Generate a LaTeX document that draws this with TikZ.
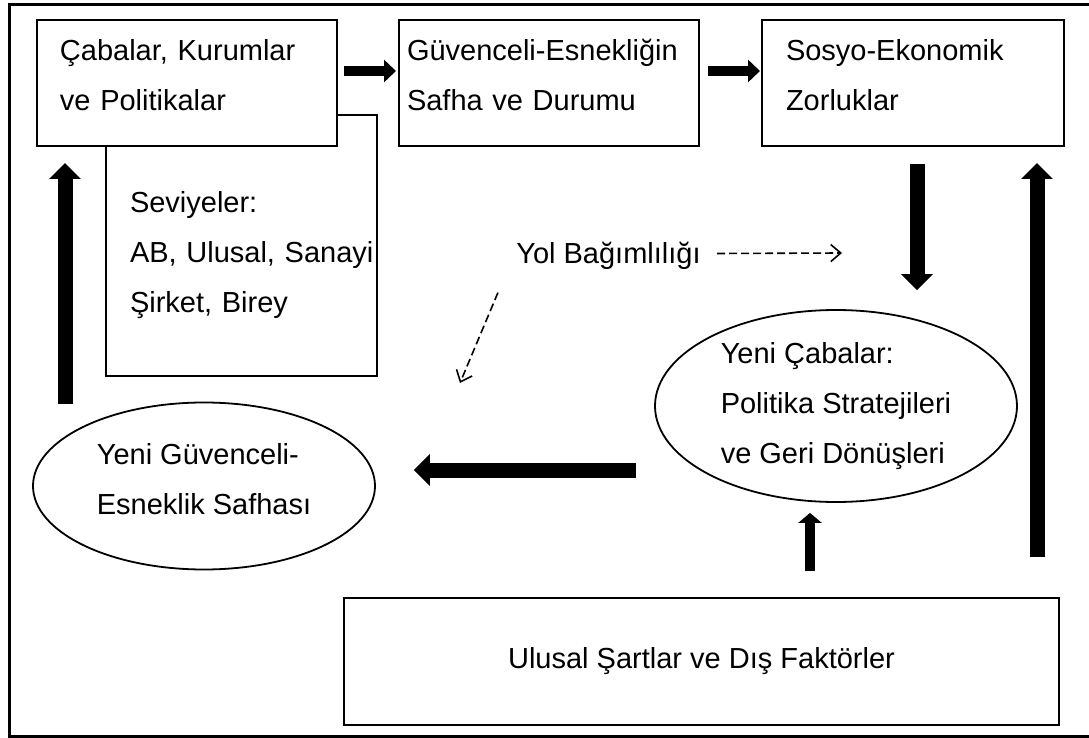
\documentclass[tikz,border=0pt]{standalone}
\usepackage{fontspec}
\setmainfont{Liberation Sans}
\usetikzlibrary{arrows.meta,calc,positioning,shapes.geometric}

\begin{document}
\begin{tikzpicture} [
    x=0.5pt, y=-0.5pt,
    every node/.style = {font=\fontsize{14.5}{25}\selectfont},
    kutu/.style   = {draw,
                     line width=1pt,
                     fill=white,
                     align=left,
                     inner xsep=0pt,
                     minimum height=63pt},
    elips/.style  = {draw, ellipse,
                     line width=0.9pt,
                     align=left,
                     inner sep=0pt},
    solpay/.style = {execute at begin node={\leftskip=#1\relax}},
    ince/.style   = {line width=5pt,
                     -{Triangle[width=11pt,length=6pt]}},
    kalin/.style  = {line width=7.5pt,
                     -{Triangle[width=15.5pt,length=8pt]}},
    kesik/.style  = {line width=0.8pt,
                     dash pattern=on 4pt off 2pt,
                     -{Straight Barb[length=5pt,width=8.5pt]}}
]
\useasboundingbox (0,0) rectangle (1089,738);
% cerceve
\draw[line width=1.5pt] (1095,5) -| (9,736) -- (1095,736);

% ust sira
\node (seviye) [kutu, text width=135.5pt, minimum height=130.5pt,
    solpay=12pt, text height=20.5pt] at (241.5,245.5) {
Seviyeler:\\
AB, Ulusal, Sanayi\\
Şirket, Birey
};
\node (cabalar) [kutu, text width=150pt, solpay=11.5pt,
    text depth=33.5pt] at (187,83) {
Çabalar, Kurumlar\\
ve Politikalar
};
\node (guvence) [kutu, text width=150pt, solpay=4pt,
    text depth=33.5pt, right=30pt of cabalar] {
Güvenceli-Esnekliğin\\
Safha ve Durumu
};
\node (zorluk) [kutu, text width=151pt, solpay=12pt,
    text depth=33.5pt, right=30.5pt of guvence] {
Sosyo-Ekonomik\\
Zorluklar
};
\draw[ince] ([xshift=3pt,yshift=6pt]cabalar.east) -- ([xshift=-1pt,yshift=6pt]guvence.west);
\draw[ince] ([xshift=4pt,yshift=6pt]guvence.east) -- ([xshift=-0.5pt,yshift=6pt]zorluk.west);

% orta
\node (yol) [inner sep=0pt] at (608.5,255.5) {Yol Bağımlılığı};
\coordinate (yolSag) at (842,253);
\coordinate (yolSol) at (460,383);
\draw[kesik] ($(yol.east)+(8pt,1pt)$) -- (yolSag);
\draw[kesik] ($(yol.south west)+(-9pt,-11.5pt)$) -- (yolSol);

\node (yeniCaba) [elips, minimum width=181pt, minimum height=96pt] at (836,406) {
Yeni Çabalar:\\
Politika Stratejileri\\
ve Geri Dönüşleri
};
\node (yeniGuv) [elips, minimum width=171pt, minimum height=83.5pt,
    text depth=6.6pt] at (204,486) {
Yeni Güvenceli-\\
Esneklik Safhası
};
\node (ulusal) [kutu, align=center, minimum width=357.5pt,
    minimum height=63.5pt] at (701.5,661.5) {Ulusal Şartlar ve Dış Faktörler};

% kalin oklar
\draw[kalin] ($(zorluk.south)+(2pt,-8.5pt)$) -- ($(zorluk.south |- yeniCaba.north)+(2pt,9.5pt)$);
\draw[kalin] ($(yeniCaba.west |- yeniGuv.east)+(-9pt,8pt)$) -- ($(yeniGuv.east)+(19pt,8pt)$);
\draw[kalin] ($(yeniGuv.north -| cabalar.west)+(14.5pt,-1pt)$) -- ($(cabalar.south west)+(14.5pt,-8pt)$);
\draw[kalin] ($(ulusal.north -| zorluk.east)+(-14pt,20pt)$) -- ($(zorluk.south east)+(-14pt,-8pt)$);
\draw[ince, -{Triangle[width=11.5pt,length=5pt]}]
    ($(ulusal.north -| yeniCaba.south)+(-13pt,13pt)$) -- ($(yeniCaba.south)+(-13pt,-5pt)$);
\end{tikzpicture}
\end{document}
